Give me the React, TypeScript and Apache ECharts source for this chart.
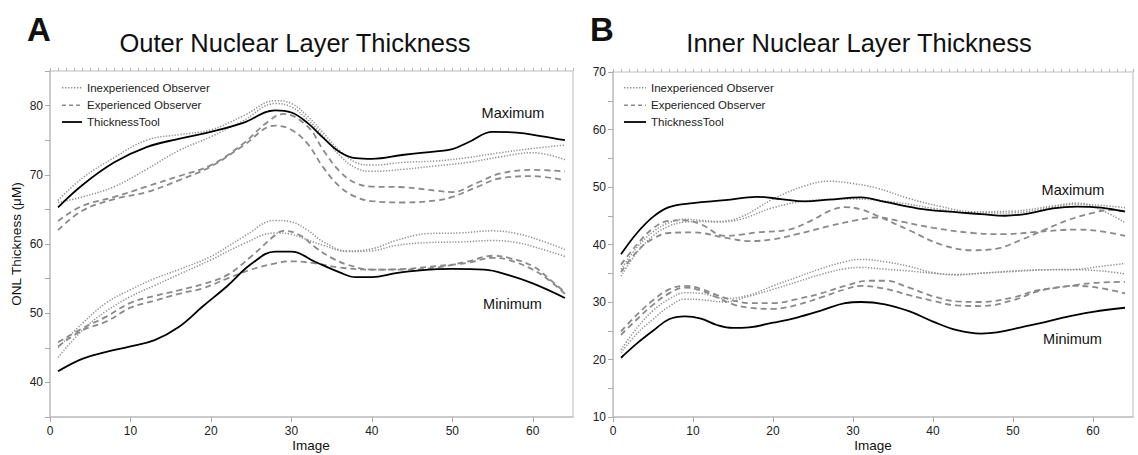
import React, { useEffect, useRef } from "react";
import * as echarts from "echarts";

type P = [number, number][];

// ---------- Panel A: Outer Nuclear Layer (ONL) ----------
const onlMaxTool: P = [[1,65.3],[4,68.5],[8,71.8],[12,74.0],[16,75.2],[20,76.2],[24,77.5],[28,79.3],[30,79.0],[32,77.5],[34,75.3],[36,73.3],[38,72.4],[40,72.3],[44,72.9],[48,73.4],[50,73.7],[52,74.7],[55,76.2],[58,76.1],[61,75.6],[64,75.0]];
const onlMaxInexpA: P = [[1,66.3],[4,69.5],[8,72.5],[12,75.0],[16,75.8],[20,76.5],[24,78.5],[28,80.7],[30,80.3],[32,78.5],[34,76.0],[36,73.5],[38,71.8],[40,71.4],[44,71.8],[48,72.0],[52,72.5],[56,73.2],[60,73.8],[64,74.3]];
const onlMaxInexpB: P = [[1,66.0],[4,66.8],[8,68.3],[12,70.8],[16,73.5],[20,75.5],[24,77.8],[28,80.3],[30,79.8],[32,78.0],[34,75.5],[36,72.8],[38,71.0],[40,70.5],[44,70.8],[48,71.3],[52,71.8],[56,72.6],[60,73.2],[64,72.2]];
const onlMaxExpA: P = [[1,63.3],[4,65.5],[8,66.8],[12,68.3],[16,69.8],[20,71.4],[24,74.5],[27,77.6],[29,78.8],[32,77.0],[34,73.5],[36,70.5],[38,68.8],[40,68.3],[44,68.2],[48,67.7],[50,67.5],[53,68.8],[56,70.2],[60,70.7],[64,70.5]];
const onlMaxExpB: P = [[1,62.0],[4,64.8],[8,66.5],[12,67.5],[16,69.2],[20,71.2],[24,74.2],[28,77.1],[30,76.5],[32,74.5],[34,71.0],[36,68.3],[38,66.8],[40,66.2],[44,66.0],[48,66.3],[50,66.8],[53,68.2],[56,69.5],[60,69.8],[64,69.2]];
const onlMinTool: P = [[1,41.6],[4,43.4],[7,44.4],[10,45.2],[13,46.1],[16,48.0],[19,51.0],[22,53.9],[25,57.1],[28,58.9],[30,58.9],[33,57.4],[36,55.9],[38,55.2],[40,55.2],[43,55.8],[46,56.2],[50,56.4],[54,56.3],[57,55.5],[60,54.3],[64,52.2]];
const onlMinInexpA: P = [[1,45.0],[4,48.5],[7,51.5],[10,53.4],[13,55.0],[16,56.3],[20,58.2],[24,61.0],[28,63.4],[30,63.2],[32,62.0],[34,60.3],[37,59.0],[40,59.3],[43,60.5],[47,61.5],[51,61.6],[55,61.9],[58,61.5],[61,60.5],[64,59.2]];
const onlMinInexpB: P = [[1,43.6],[4,47.5],[7,50.3],[10,52.4],[13,54.0],[16,55.6],[20,57.7],[24,60.0],[28,61.6],[30,61.4],[32,60.6],[34,59.8],[37,58.9],[40,59.0],[43,59.8],[47,60.2],[51,60.3],[55,60.5],[58,60.2],[61,59.3],[64,58.2]];
const onlMinExpA: P = [[1,45.8],[4,47.8],[7,49.5],[10,51.5],[13,52.5],[16,53.3],[19,54.2],[22,55.5],[25,58.2],[28,61.3],[29,61.9],[31,61.3],[33,59.5],[35,58.0],[37,57.0],[40,56.3],[44,56.3],[48,56.6],[52,57.5],[55,58.3],[57,58.0],[60,56.8],[62,55.0],[64,53.0]];
const onlMinExpB: P = [[1,45.2],[4,47.5],[7,48.8],[10,50.8],[13,51.8],[16,52.8],[19,53.6],[22,55.0],[25,56.3],[28,57.2],[30,57.5],[33,57.2],[36,56.6],[40,56.3],[44,56.4],[48,56.8],[52,57.3],[55,58.0],[57,57.7],[60,56.3],[62,54.8],[64,52.8]];

// ---------- Panel B: Inner Nuclear Layer (INL) ----------
const inlMaxTool: P = [[1,38.3],[3,42.0],[5,44.8],[7,46.5],[10,47.2],[14,47.7],[18,48.3],[21,47.9],[24,47.5],[27,47.8],[31,48.2],[34,47.4],[38,46.3],[42,45.7],[46,45.3],[49,45.0],[52,45.4],[55,46.3],[58,46.6],[61,46.4],[64,45.7]];
const inlMaxInexpA: P = [[1,35.7],[3,39.5],[5,42.2],[7,43.8],[9,44.4],[11,44.2],[13,44.0],[16,44.8],[20,47.9],[24,50.2],[27,51.0],[30,50.6],[33,49.8],[37,48.0],[41,46.6],[45,45.7],[50,45.8],[55,46.7],[58,47.2],[61,46.0],[64,43.8]];
const inlMaxInexpB: P = [[1,34.5],[3,38.6],[5,41.5],[7,43.2],[9,43.9],[11,44.0],[13,43.9],[16,44.4],[20,46.4],[25,47.7],[30,47.9],[35,47.4],[40,46.3],[45,45.5],[50,45.5],[55,46.5],[58,47.0],[61,46.8],[64,46.4]];
const inlMaxExpA: P = [[1,36.5],[3,40.0],[5,42.8],[7,44.1],[9,44.2],[11,43.5],[14,41.5],[16,41.7],[18,42.1],[22,42.6],[25,44.3],[27,45.8],[29,46.5],[31,46.1],[33,45.0],[37,42.5],[41,40.0],[45,39.0],[48,39.3],[51,40.8],[54,42.6],[57,44.3],[60,45.5],[62,46.0],[64,45.8]];
const inlMaxExpB: P = [[1,35.2],[3,38.8],[5,41.0],[7,42.0],[10,42.1],[14,41.2],[17,40.6],[20,40.9],[23,41.8],[27,43.2],[30,44.1],[33,44.7],[36,44.0],[40,42.9],[45,42.0],[49,41.8],[53,42.2],[58,42.6],[61,42.3],[64,41.5]];
const inlMinTool: P = [[1,20.3],[3,22.8],[5,25.0],[7,27.0],[9,27.5],[11,27.1],[13,26.0],[15,25.5],[17,25.6],[20,26.4],[23,27.3],[26,28.5],[29,29.8],[31,30.0],[34,29.6],[37,28.4],[40,26.6],[43,25.1],[46,24.5],[48,24.7],[51,25.6],[54,26.5],[57,27.5],[60,28.3],[64,29.0]];
const inlMinInexpA: P = [[1,21.7],[3,25.5],[5,28.5],[7,30.5],[9,31.6],[11,31.5],[14,30.6],[17,31.2],[20,32.8],[23,34.3],[26,35.8],[29,37.0],[31,37.4],[34,37.0],[37,36.2],[40,35.1],[43,34.7],[46,35.0],[50,35.3],[54,35.6],[58,35.7],[61,36.2],[64,36.7]];
const inlMinInexpB: P = [[1,21.2],[3,24.5],[5,27.0],[7,29.2],[9,30.5],[11,30.4],[14,30.0],[17,31.0],[20,32.2],[23,33.5],[26,34.8],[29,35.8],[31,36.0],[34,35.7],[37,35.4],[40,35.0],[43,34.8],[46,35.0],[50,35.4],[54,35.6],[58,35.6],[61,35.4],[64,34.9]];
const inlMinExpA: P = [[1,24.9],[3,27.8],[5,30.3],[7,32.2],[9,32.8],[11,32.3],[13,31.2],[15,30.3],[17,29.8],[20,29.8],[23,30.5],[26,31.5],[29,32.8],[32,33.7],[34,33.7],[37,32.5],[40,31.0],[43,30.1],[46,30.0],[50,30.8],[53,32.0],[56,32.6],[60,33.3],[64,33.5]];
const inlMinExpB: P = [[1,24.3],[3,27.0],[5,29.5],[7,31.5],[9,32.5],[11,32.0],[13,30.8],[15,29.6],[17,29.0],[20,28.8],[23,29.5],[26,30.8],[29,32.2],[31,32.8],[34,32.3],[37,31.2],[40,30.2],[43,29.4],[46,29.3],[50,30.3],[53,31.8],[56,32.6],[58,32.8],[61,32.4],[64,31.5]];

const legendNames = ["Inexperienced Observer", "Experienced Observer", "ThicknessTool"];
const panelTitles = ["Outer Nuclear Layer Thickness", "Inner Nuclear Layer Thickness"];
const panelLetters = ["A", "B"];
const xAxisName = "Image";
const yAxisName = "ONL Thickness (μM)";

const FONT = "'Liberation Sans', Arial, Helvetica, sans-serif";

const DOT = { color: "#929292", width: 1.5, type: [1.3, 1.6] as any };
const DASH = { color: "#8a8a8a", width: 1.8, type: [6, 4] as any };
const SOLID = { color: "#000000", width: 1.8, type: "solid" as any };

function mk(name: string, data: P, style: any, xi: number, yi: number) {
  return {
    type: "line",
    name,
    data,
    xAxisIndex: xi,
    yAxisIndex: yi,
    smooth: 0.4,
    showSymbol: false,
    symbol: "none",
    lineStyle: style,
    silent: true,
    z: style === SOLID ? 4 : 3,
  };
}

function legendGraphic(x0: number, len: number) {
  const ys = [87.7, 105.3, 122];
  const styles = [
    { stroke: "#8f8f8f", lineWidth: 1.4, lineDash: [1.4, 1.6] },
    { stroke: "#8a8a8a", lineWidth: 1.6, lineDash: [4, 3] },
    { stroke: "#000", lineWidth: 1.8 },
  ];
  const els: any[] = [];
  legendNames.forEach((n, i) => {
    els.push({ type: "line", shape: { x1: x0, y1: ys[i], x2: x0 + len, y2: ys[i] }, style: styles[i], silent: true });
    els.push({
      type: "text",
      x: x0 + len + 5,
      y: ys[i],
      style: { text: n, font: `11.5px ${FONT}`, fill: "#222", align: "left", verticalAlign: "middle", textAlign: "left", textVerticalAlign: "middle" },
      silent: true,
    });
  });
  return els;
}

function txt(text: string, x: number, y: number, font: string) {
  return {
    type: "text",
    x,
    y,
    style: { text, font, fill: "#111", align: "center", verticalAlign: "middle", textAlign: "center", textVerticalAlign: "middle" },
    silent: true,
  };
}

export default function App() {
  const ref = useRef<HTMLDivElement>(null);
  useEffect(() => {
    if (!ref.current) return;
    const chart = echarts.init(ref.current, undefined, { renderer: "svg" });
    const axisLineStyle = { color: "#c4c4c4", width: 1.5 };
    const mainX = (gi: number) => ({
      type: "value",
      gridIndex: gi,
      min: 0,
      max: 65,
      interval: 10,
      axisLine: { show: true, lineStyle: axisLineStyle },
      axisTick: { show: true, length: 5, lineStyle: { color: "#aaa" } },
      axisLabel: { fontSize: 12, color: "#222", fontFamily: FONT, margin: 8, showMaxLabel: false, formatter: (v: number) => (v % 10 === 0 ? String(v) : "") },
      splitLine: { show: false },
    });
    const minorX = (gi: number) => ({
      type: "value",
      gridIndex: gi,
      min: 0,
      max: 65,
      interval: 1,
      axisLine: { show: false },
      axisTick: { show: true, length: 3, lineStyle: { color: "#b5b5b5" } },
      axisLabel: { show: false },
      splitLine: { show: false },
    });
    const yAx = (gi: number, min: number, max: number, name: string) => ({
      type: "value",
      gridIndex: gi,
      min,
      max,
      interval: 5,
      name,
      nameLocation: "middle",
      nameGap: 27,
      nameRotate: 90,
      nameTextStyle: { fontSize: 13.5, color: "#111", fontFamily: FONT },
      axisLine: { show: true, lineStyle: axisLineStyle },
      axisTick: { show: true, length: 5, lineStyle: { color: "#aaa" } },
      axisLabel: { fontSize: 12, color: "#222", fontFamily: FONT, margin: 7, formatter: (v: number) => (v % 10 === 0 ? String(v) : "") },
      splitLine: { show: false },
    });

    const series = [
      mk(legendNames[0], onlMaxInexpA, DOT, 0, 0),
      mk(legendNames[0], onlMaxInexpB, DOT, 0, 0),
      mk(legendNames[1], onlMaxExpA, DASH, 0, 0),
      mk(legendNames[1], onlMaxExpB, DASH, 0, 0),
      mk(legendNames[2], onlMaxTool, SOLID, 0, 0),
      mk(legendNames[0], onlMinInexpA, DOT, 0, 0),
      mk(legendNames[0], onlMinInexpB, DOT, 0, 0),
      mk(legendNames[1], onlMinExpA, DASH, 0, 0),
      mk(legendNames[1], onlMinExpB, DASH, 0, 0),
      mk(legendNames[2], onlMinTool, SOLID, 0, 0),
      mk(legendNames[0], inlMaxInexpA, DOT, 2, 1),
      mk(legendNames[0], inlMaxInexpB, DOT, 2, 1),
      mk(legendNames[1], inlMaxExpA, DASH, 2, 1),
      mk(legendNames[1], inlMaxExpB, DASH, 2, 1),
      mk(legendNames[2], inlMaxTool, SOLID, 2, 1),
      mk(legendNames[0], inlMinInexpA, DOT, 2, 1),
      mk(legendNames[0], inlMinInexpB, DOT, 2, 1),
      mk(legendNames[1], inlMinExpA, DASH, 2, 1),
      mk(legendNames[1], inlMinExpB, DASH, 2, 1),
      mk(legendNames[2], inlMinTool, SOLID, 2, 1),
    ];

    chart.setOption({
      animation: false,
      backgroundColor: "#ffffff",
      textStyle: { fontFamily: FONT },
      grid: [
        { left: 50, top: 71, width: 523, height: 346, show: true, borderColor: "#d2d2d2", borderWidth: 1.5, containLabel: false, outerBoundsMode: "none" },
        { left: 613, top: 72, width: 520, height: 345, show: true, borderColor: "#d2d2d2", borderWidth: 1.5, containLabel: false, outerBoundsMode: "none" },
      ],
      xAxis: [mainX(0), minorX(0), mainX(1), minorX(1)],
      yAxis: [yAx(0, 35, 85, yAxisName), yAx(1, 10, 70, "")],
      series,
      graphic: [
        txt(panelLetters[0], 39, 29, `bold 33px ${FONT}`),
        txt(panelLetters[1], 602, 29, `bold 33px ${FONT}`),
        txt(panelTitles[0], 295, 43, `25.5px ${FONT}`),
        txt(panelTitles[1], 859, 43, `25.5px ${FONT}`),
        txt(xAxisName, 311, 445, `13.5px ${FONT}`),
        txt(xAxisName, 873, 445, `13.5px ${FONT}`),
        txt("Maximum", 513, 112.5, `14.5px ${FONT}`),
        txt("Minimum", 512.5, 304, `14.5px ${FONT}`),
        txt("Maximum", 1073, 189.5, `14.5px ${FONT}`),
        txt("Minimum", 1072.5, 338.5, `14.5px ${FONT}`),
        ...legendGraphic(62, 20),
        ...legendGraphic(624, 22),
      ],
    });
    return () => chart.dispose();
  }, []);
  return <div ref={ref} style={{ position: "fixed", left: 0, top: 0, width: 1138, height: 455 }} />;
}
